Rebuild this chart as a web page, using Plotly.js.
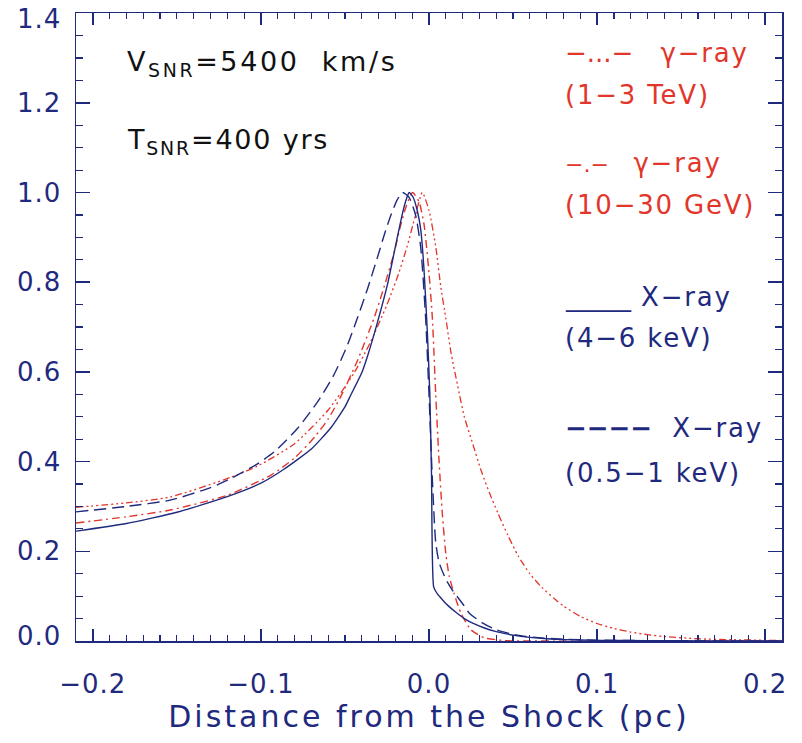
<!DOCTYPE html>
<html>
<head>
<meta charset="utf-8">
<script src="https://cdn.plot.ly/plotly-3.0.1.min.js"></script>
<style>html,body{margin:0;padding:0;background:#fff;}#chart{width:802px;height:743px;}</style>
</head>
<body>
<div id="chart"></div>
<script>
// X-ray 4-6 keV (solid)
const xHard = [-0.21, -0.18, -0.15, -0.12, -0.10, -0.0863, -0.07, -0.0585, -0.05, -0.0466, -0.04, -0.0366, -0.0307, -0.0247, -0.0208, -0.018, -0.0155, -0.0135, -0.0118, -0.0095, -0.007, -0.005, -0.003, -0.001, 0.0005, 0.0015, 0.0028, 0.005, 0.008, 0.011, 0.016, 0.021, 0.027, 0.033, 0.04, 0.05, 0.06, 0.07, 0.08, 0.1, 0.13, 0.16, 0.21];
const yHard = [0.245, 0.262, 0.287, 0.322, 0.352, 0.383, 0.428, 0.475, 0.522, 0.548, 0.598, 0.635, 0.71, 0.795, 0.865, 0.915, 0.958, 0.985, 1.0, 0.99, 0.96, 0.92, 0.83, 0.69, 0.55, 0.37, 0.12, 0.105, 0.092, 0.08, 0.064, 0.05, 0.038, 0.029, 0.021, 0.013, 0.008, 0.005, 0.003, 0.0015, 0.0007, 0.0003, 0.0];
// X-ray 0.5-1 keV (dashed)
const xSoft = [-0.21, -0.18, -0.154, -0.13, -0.118, -0.102, -0.092, -0.078, -0.066, -0.0565, -0.0485, -0.0426, -0.0366, -0.0307, -0.0265, -0.0228, -0.019, -0.0158, -0.012, -0.008, -0.005, -0.002, 0.0, 0.002, 0.004, 0.006, 0.010, 0.014, 0.020, 0.024, 0.032, 0.040, 0.05, 0.06, 0.08, 0.1, 0.13, 0.21];
const ySoft = [0.288, 0.300, 0.314, 0.342, 0.362, 0.395, 0.422, 0.475, 0.535, 0.594, 0.66, 0.72, 0.785, 0.855, 0.907, 0.948, 0.983, 1.0, 0.99, 0.95, 0.88, 0.72, 0.55, 0.36, 0.22, 0.175, 0.138, 0.113, 0.083, 0.062, 0.040, 0.025, 0.015, 0.009, 0.004, 0.002, 0.0008, 0.0];
// gamma-ray 10-30 GeV (dash-dot)
const xGeV = [-0.21, -0.18, -0.154, -0.12, -0.094, -0.08, -0.068, -0.06, -0.0525, -0.0426, -0.0327, -0.0267, -0.0208, -0.017, -0.0135, -0.0098, -0.006, -0.003, 0.0, 0.002, 0.004, 0.006, 0.008, 0.010, 0.012, 0.015, 0.019, 0.025, 0.033, 0.045, 0.06, 0.21];
const yGeV = [0.263, 0.277, 0.292, 0.325, 0.37, 0.408, 0.455, 0.495, 0.545, 0.625, 0.72, 0.79, 0.865, 0.925, 0.97, 1.0, 0.98, 0.93, 0.82, 0.72, 0.55, 0.40, 0.28, 0.195, 0.145, 0.105, 0.062, 0.025, 0.007, 0.001, 0.0, 0.0];
// gamma-ray 1-3 TeV (dash-dot-dot-dot)
const xTeV = [-0.21, -0.18, -0.154, -0.118, -0.102, -0.08, -0.06, -0.045, -0.035, -0.025, -0.018, -0.013, -0.008, -0.004, 0.0, 0.004, 0.007, 0.010, 0.013, 0.017, 0.021, 0.026, 0.031, 0.036, 0.041, 0.047, 0.053, 0.06, 0.067, 0.075, 0.08, 0.09, 0.1, 0.11, 0.12, 0.13, 0.14, 0.16, 0.18, 0.21];
const yTeV = [0.298, 0.308, 0.321, 0.365, 0.39, 0.44, 0.515, 0.595, 0.665, 0.75, 0.82, 0.88, 0.95, 1.0, 0.96, 0.88, 0.79, 0.72, 0.645, 0.57, 0.50, 0.44, 0.38, 0.33, 0.285, 0.235, 0.19, 0.15, 0.12, 0.093, 0.078, 0.055, 0.039, 0.028, 0.020, 0.014, 0.010, 0.005, 0.003, 0.001];

const xTickVals = [-0.2, -0.1, 0.0, 0.1, 0.2];
const xTickText = ["\u22120.2", "\u22120.1", "0.0", "0.1", "0.2"];
const yTickVals = [0.0, 0.2, 0.4, 0.6, 0.8, 1.0, 1.2, 1.4];
const yTickText = ["0.0", "0.2", "0.4", "0.6", "0.8", "1.0", "1.2", "1.4"];

const NAVY = "#1f2a7e";
const RED = "#e2352b";
const FONT = "DejaVu Sans";

const traces = [
  {x: xTeV, y: yTeV, mode: "lines", line: {color: RED, width: 1.3, shape: "spline", smoothing: 0.6, dash: "7px,3px,2px,3px,2px,3px,2px,3px"}},
  {x: xGeV, y: yGeV, mode: "lines", line: {color: RED, width: 1.4, shape: "spline", smoothing: 0.6, dash: "8px,4px,2px,4px"}},
  {x: xSoft, y: ySoft, mode: "lines", line: {color: NAVY, width: 1.4, shape: "spline", smoothing: 0.6, dash: "12px,6px"}},
  {x: xHard, y: yHard, mode: "lines", line: {color: NAVY, width: 1.4, shape: "spline", smoothing: 0.5}}
];

function ann(x, y, text, color, size) {
  return {x: x, y: y, xref: "x", yref: "y", text: text, showarrow: false, align: "left",
          xanchor: "left", yanchor: "middle", font: {family: FONT, size: size || 26, color: color}};
}

const NOSP = '<span style="letter-spacing:0px">';
const NOSP_SMALL = '<span style="letter-spacing:0px;font-size:22px">';
const layout = {
  width: 802, height: 743,
  margin: {l: 76, r: 20, t: 13, b: 102},
  paper_bgcolor: "#ffffff", plot_bgcolor: "#ffffff",
  showlegend: false,
  font: {family: FONT, color: NAVY},
  xaxis: {
    range: [-0.21, 0.21], tickmode: "array", tickvals: xTickVals, ticktext: xTickText,
    ticks: "inside", ticklen: 12, tickwidth: 1.5, tickcolor: NAVY,
    minor: {dtick: 0.01, tick0: 0, ticks: "inside", ticklen: 6, tickwidth: 1.2, tickcolor: NAVY, showgrid: false},
    showline: true, linecolor: NAVY, linewidth: 1.5, mirror: "ticks",
    showgrid: false, zeroline: false,
    tickfont: {family: FONT, size: 26, color: NAVY},
    ticklabelstandoff: 19, ticklabeloverflow: "allow",
    title: {text: "Distance from the Shock (pc)", font: {family: FONT, size: 30, color: NAVY}, standoff: 8}
  },
  yaxis: {
    range: [0, 1.4003], tickmode: "array", tickvals: yTickVals, ticktext: yTickText,
    ticks: "inside", ticklen: 14, tickwidth: 1.5, tickcolor: NAVY,
    minor: {dtick: 0.05, tick0: 0, ticks: "inside", ticklen: 7, tickwidth: 1.2, tickcolor: NAVY, showgrid: false},
    showline: true, linecolor: NAVY, linewidth: 1.5, mirror: "ticks",
    showgrid: false, zeroline: false,
    tickfont: {family: FONT, size: 26, color: NAVY},
    ticklabelstandoff: 8, ticklabeloverflow: "allow"
  },
  annotations: [
    ann(-0.181, 1.288, "V<sub>SNR</sub>=5400  km/s", "#111111", 27),
    ann(-0.181, 1.114, "T<sub>SNR</sub>=400 yrs", "#111111", 27),
    ann(0.080, 1.312, NOSP + "\u2212...\u2212</span>  \u2009\u03b3\u2212ray", RED),
    ann(0.080, 1.218, "(1\u22123 TeV)", RED),
    ann(0.080, 1.066, NOSP_SMALL + "\u2212.\u2212</span>  \u200a\u03b3\u2212ray", RED),
    ann(0.080, 0.972, "(10\u221230 GeV)", RED),
    ann(0.080, 0.768, NOSP + "_____</span> X\u2212ray", NAVY),
    ann(0.080, 0.676, "(4\u22126 keV)", NAVY),
    ann(0.080, 0.475, NOSP + "<b>\u2212\u2212\u2212\u2212</b></span>  X\u2212ray", NAVY),
    ann(0.080, 0.374, "(0.5\u22121 keV)", NAVY)
  ]
};

Plotly.newPlot("chart", traces, layout, {staticPlot: true, displayModeBar: false}).then(function (gd) {
  gd.querySelectorAll(".xtitle").forEach(function (t) { t.style.letterSpacing = "3px"; });
  const anns = gd.querySelectorAll(".annotation-text-g text");
  anns.forEach(function (t, i) { t.style.letterSpacing = (i === 0 ? "2.6px" : "1.8px"); });
  gd.querySelectorAll(".xtick text, .ytick text").forEach(function (t) { t.style.letterSpacing = "1px"; });
  gd.querySelectorAll(".ytick text").forEach(function (t) {
    const shift = t.textContent === "1.4" ? 6 : (t.textContent === "0.0" ? -5 : 0);
    if (shift) {
      const tr = t.getAttribute("transform") || "";
      t.setAttribute("transform", tr + " translate(0," + shift + ")");
    }
  });
});
</script>
</body>
</html>
